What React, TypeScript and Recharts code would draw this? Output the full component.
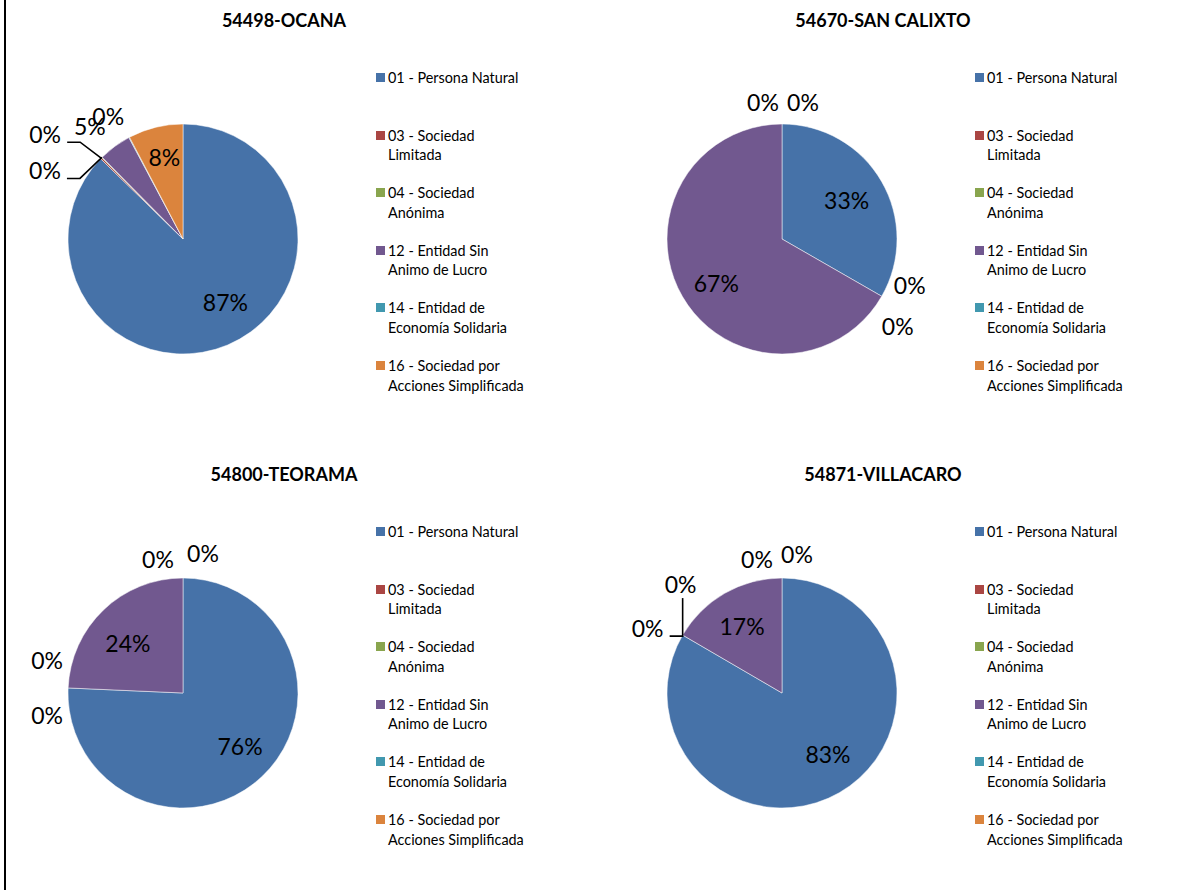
import { PieChart, Pie, Cell, Legend } from 'recharts';

const categories = [
  '01 - Persona Natural',
  '03 - Sociedad\nLimitada',
  '04 - Sociedad\nAnónima',
  '12 - Entidad Sin\nAnimo de Lucro',
  '14 - Entidad de\nEconomía Solidaria',
  '16 - Sociedad por\nAcciones Simplificada',
];

const colors = ['#4672A8', '#AA4643', '#89A54E', '#71588F', '#4198AF', '#DB843D'];

const ocanaValues = [87.3, 0.2, 0.1, 4.6, 0.1, 7.7];
const sanCalixtoValues = [33.3, 0, 0, 66.7, 0, 0];
const teoramaValues = [75.7, 0, 0, 24.3, 0, 0];
const villacaroValues = [83.4, 0, 0, 16.6, 0, 0];

// label placement: k = fraction of radius, dx/dy = nudge, leader = elbow line to slice edge
type LabelPos = { k: number; dx: number; dy: number; leader?: 'h' | 'v' };

const ocanaLabels: LabelPos[] = [
  { k: 0.68, dx: 12, dy: -9 },
  { k: 1, dx: -56, dy: -24, leader: 'h' },
  { k: 1, dx: -57, dy: 13, leader: 'h' },
  { k: 1, dx: -25, dy: -20 },
  { k: 1, dx: -21, dy: -21 },
  { k: 0.68, dx: 0, dy: -6 },
];
const sanCalixtoLabels: LabelPos[] = [
  { k: 0.68, dx: -3, dy: 0 },
  { k: 1, dx: 28, dy: -11 },
  { k: 1, dx: 16, dy: 30 },
  { k: 0.68, dx: 2, dy: 5 },
  { k: 1, dx: -19, dy: -22 },
  { k: 1, dx: 21, dy: -22 },
];
const teoramaLabels: LabelPos[] = [
  { k: 0.68, dx: 3, dy: -3 },
  { k: 1, dx: -21, dy: -28 },
  { k: 1, dx: -21, dy: 27 },
  { k: 0.68, dx: -1, dy: 6 },
  { k: 1, dx: -25, dy: -19 },
  { k: 1, dx: 20, dy: -25 },
];
const villacaroLabels: LabelPos[] = [
  { k: 0.68, dx: 7, dy: -7 },
  { k: 1, dx: -35, dy: -7, leader: 'h' },
  { k: 1, dx: -2, dy: -51, leader: 'v' },
  { k: 0.68, dx: -1, dy: 1 },
  { k: 1, dx: -25, dy: -19 },
  { k: 1, dx: 15, dy: -24 },
];

const FONT = 'Lato, "Open Sans", sans-serif';
const RAD = Math.PI / 180;

function makeLabel(layout: LabelPos[]) {
  return (props: any) => {
    const { cx, cy, midAngle, outerRadius, percent, index } = props;
    const pos = layout[index] || { k: 1, dx: 0, dy: 0 };
    const cos = Math.cos(-midAngle * RAD);
    const sin = Math.sin(-midAngle * RAD);
    const ex = cx + outerRadius * cos;
    const ey = cy + outerRadius * sin;
    const x = cx + outerRadius * pos.k * cos + pos.dx;
    const y = cy + outerRadius * pos.k * sin + pos.dy;
    let line = null;
    if (pos.leader === 'h') {
      line = (
        <polyline
          points={`${x + 22},${y + 8} ${x + 35},${y + 8} ${ex},${ey}`}
          fill="none"
          stroke="#000"
          strokeWidth={1.6}
        />
      );
    } else if (pos.leader === 'v') {
      line = (
        <polyline points={`${x + 2},${y + 14} ${ex},${ey}`} fill="none" stroke="#000" strokeWidth={1.6} />
      );
    }
    return (
      <g key={`lbl-${index}`}>
        {line}
        <text
          x={x}
          y={y}
          textAnchor="middle"
          dominantBaseline="central"
          fontFamily={FONT}
          fontSize={23}
          fill="#000"
        >
          {`${Math.round((percent || 0) * 100)}%`}
        </text>
      </g>
    );
  };
}

function renderLegend(props: any) {
  const payload = props.payload || [];
  return (
    <div style={{ position: 'relative', fontFamily: FONT, fontSize: 14.4, color: '#000' }}>
      {categories.map((name, i) => {
        const entry = payload[i];
        const color = entry && entry.color ? entry.color : colors[i];
        return (
          <div
            key={name}
            style={{ position: 'absolute', left: 0, top: i * 57.6, width: 210, lineHeight: '19.5px' }}
          >
            <span
              style={{ position: 'absolute', left: 0, top: 5, width: 9, height: 9, background: color }}
            />
            <div style={{ marginLeft: 12, whiteSpace: 'pre-line' }}>{name}</div>
          </div>
        );
      })}
    </div>
  );
}

interface MunicipioPieProps {
  title: string;
  values: number[];
  layout: LabelPos[];
  left: number;
  top: number;
}

function MunicipioPie({ title, values, layout, left, top }: MunicipioPieProps) {
  const data = categories.map((name, i) => ({ name, value: values[i] }));
  return (
    <div style={{ position: 'absolute', left, top, width: 599, height: 454 }}>
      <div
        style={{
          position: 'absolute',
          left: 84,
          top: 10,
          width: 400,
          textAlign: 'center',
          fontFamily: FONT,
          fontWeight: 'bold',
          fontSize: 18,
          lineHeight: '20px',
          color: '#000',
        }}
      >
        {title}
      </div>
      <PieChart width={599} height={454} margin={{ top: 0, right: 0, bottom: 0, left: 0 }}>
        <Pie
          data={data}
          cx={183}
          cy={239}
          outerRadius={115}
          startAngle={90}
          endAngle={-270}
          dataKey="value"
          nameKey="name"
          stroke="#fff"
          strokeWidth={0.5}
          label={makeLabel(layout)}
          labelLine={false}
          isAnimationActive={false}
        >
          {data.map((entry, index) => (
            <Cell key={`cell-${index}`} fill={colors[index]} />
          ))}
        </Pie>
        <Legend
          content={renderLegend}
          wrapperStyle={{ position: 'absolute', left: 376, top: 68, width: 220, height: 340 }}
        />
      </PieChart>
    </div>
  );
}

export default function App() {
  return (
    <div style={{ position: 'absolute', left: 0, top: 0, width: 1194, height: 890, background: '#fff', overflow: 'hidden' }}>
      <div style={{ position: 'absolute', left: 4, top: 0, width: 2, height: 890, background: '#000' }} />
      <MunicipioPie title="54498-OCANA" values={ocanaValues} layout={ocanaLabels} left={0} top={0} />
      <MunicipioPie title="54670-SAN CALIXTO" values={sanCalixtoValues} layout={sanCalixtoLabels} left={599} top={0} />
      <MunicipioPie title="54800-TEORAMA" values={teoramaValues} layout={teoramaLabels} left={0} top={454} />
      <MunicipioPie title="54871-VILLACARO" values={villacaroValues} layout={villacaroLabels} left={599} top={454} />
    </div>
  );
}
